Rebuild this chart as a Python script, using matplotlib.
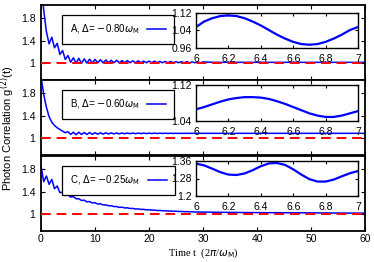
import numpy as np
import matplotlib
matplotlib.use("Agg")
import matplotlib.pyplot as plt

# time grid of the main panels (units of 2pi/omega_M)
t_main = np.concatenate([np.arange(0, 30.01, 0.5), np.arange(32, 60.01, 2)])

gA = [2.6, 1.95, 1.56, 1.34, 1.46, 1.27, 1.35, 1.15, 1.22, 1.06,
      1.13, 1.01, 1.09, 0.99, 1.08, 0.99, 1.07, 0.995, 1.065, 0.995,
      1.06, 1.0, 1.055, 1.0, 1.05, 1.0, 1.045, 1.0, 1.045, 1.0,
      1.04, 1.0, 1.04, 1.0, 1.035, 1.0, 1.035, 1.0, 1.03, 1.0,
      1.03, 1.0, 1.03, 1.0, 1.025, 1.0, 1.025, 1.0, 1.025, 1.0,
      1.02, 1.0, 1.02, 1.0, 1.02, 1.0, 1.015, 1.0, 1.015, 1.0,
      1.015,
      1.008, 1.008, 1.008, 1.008, 1.008, 1.008, 1.008, 1.008,
      1.008, 1.008, 1.008, 1.008, 1.008, 1.008, 1.008]

gB = [2.1, 1.78, 1.55, 1.38, 1.28, 1.22, 1.18, 1.15, 1.12, 1.09,
      1.11, 1.06, 1.1, 1.055, 1.1, 1.06, 1.095, 1.06, 1.095, 1.062,
      1.092, 1.064, 1.09, 1.066, 1.09, 1.068, 1.088, 1.07, 1.087, 1.07,
      1.086, 1.072, 1.085, 1.073, 1.085, 1.074, 1.084, 1.075, 1.084, 1.076,
      1.083, 1.077, 1.083, 1.077, 1.082, 1.078, 1.082, 1.078, 1.082, 1.078,
      1.081, 1.079, 1.08, 1.08, 1.08, 1.08, 1.08, 1.08, 1.08, 1.08,
      1.08,
      1.08, 1.08, 1.08, 1.08, 1.08, 1.08, 1.08, 1.08,
      1.08, 1.08, 1.08, 1.08, 1.08, 1.08, 1.08]

gC = [1.86, 1.58, 1.68, 1.53, 1.62, 1.45, 1.5, 1.38, 1.39, 1.33,
      1.34, 1.3, 1.31, 1.27, 1.27, 1.24, 1.245, 1.215, 1.22, 1.195,
      1.2, 1.175, 1.18, 1.16, 1.16, 1.145, 1.145, 1.13, 1.13, 1.115,
      1.118, 1.105, 1.107, 1.095, 1.097, 1.086, 1.088, 1.078, 1.08, 1.071,
      1.073, 1.065, 1.066, 1.059, 1.06, 1.054, 1.055, 1.049, 1.05, 1.045,
      1.046, 1.041, 1.042, 1.038, 1.039, 1.035, 1.036, 1.032, 1.033, 1.03,
      1.03,
      1.028, 1.026, 1.024, 1.022, 1.021, 1.02, 1.019, 1.018,
      1.017, 1.016, 1.015, 1.014, 1.013, 1.012, 1.012]

# zoomed windows t = 6 .. 7
t_zoom = np.linspace(6, 7, 21)
zA = [1.056, 1.081, 1.096, 1.106, 1.109, 1.106, 1.096, 1.081, 1.063, 1.042,
      1.021, 1.003, 0.988, 0.978, 0.975, 0.978, 0.988, 1.003, 1.021, 1.042, 1.056]
zB = [1.066, 1.071, 1.077, 1.083, 1.088, 1.091, 1.093, 1.093, 1.092, 1.089,
      1.084, 1.078, 1.071, 1.064, 1.057, 1.052, 1.049, 1.049, 1.052, 1.057, 1.062]
zC = [1.348, 1.34, 1.325, 1.309, 1.298, 1.296, 1.303, 1.318, 1.336, 1.349,
      1.351, 1.342, 1.322, 1.298, 1.277, 1.266, 1.266, 1.275, 1.29, 1.304, 1.314]

labels = [r'A, $\Delta$= $-$0.80$\omega_{\rm M}$',
          r'B, $\Delta$= $-$0.60$\omega_{\rm M}$',
          r'C, $\Delta$= $-$0.25$\omega_{\rm M}$']
zoom_ylim = [(0.96, 1.12), (1.04, 1.12), (1.2, 1.36)]
zoom_yticks = [[0.96, 1.04, 1.12], [1.04, 1.12], [1.2, 1.28, 1.36]]
zoom_ylabels = [['0.96', '1.04', '1.12'], ['1.04', '1.12'], ['1.2', '1.28', '1.36']]

plt.rcParams['font.family'] = ['Liberation Sans', 'DejaVu Sans']
plt.rcParams['mathtext.fontset'] = 'dejavusans'

fig = plt.figure(figsize=(3.74, 2.62), dpi=100)
W, H = 374.0, 262.0
left, right = 41 / W, 365 / W
tops = [5, 80, 156]
ph = 75

mains = [gA, gB, gC]
zooms = [zA, zB, zC]
zoom_boxes = [(13, 48), (85, 121), (161, 196)]

for k in range(3):
    ax = fig.add_axes([left, 1 - (tops[k] + ph) / H, right - left, ph / H])
    ax.plot(t_main, mains[k], color='blue', lw=1.1)
    ax.axhline(1.0, color='red', lw=1.4, ls=(0, (5, 3)), zorder=3)
    ax.set_xlim(0, 60)
    ax.set_ylim(0.69, 2.04)
    ax.set_yticks([1, 1.4, 1.8])
    ax.set_yticklabels(['1', '1.4', '1.8'])
    ax.set_xticks(range(0, 61, 10))
    ax.tick_params(direction='in', top=True, right=True, length=3,
                   labelsize=7.5, width=0.8, pad=4)
    ax.tick_params(axis='x', pad=2.5)
    for s in ax.spines.values():
        s.set_linewidth(1.3)
    if k < 2:
        ax.set_xticklabels([])
    leg = ax.legend([labels[k]], loc='upper left', bbox_to_anchor=(0.065, 0.87),
                    markerfirst=False, fancybox=False, framealpha=1,
                    edgecolor='black', fontsize=7, handlelength=2.0,
                    borderpad=0.8, handletextpad=0.8, borderaxespad=0)
    leg.get_frame().set_linewidth(0.9)

    y0, y1 = zoom_boxes[k]
    ins = fig.add_axes([196 / W, 1 - y1 / H, 162 / W, (y1 - y0) / H])
    ins.plot(t_zoom, zooms[k], color='blue', lw=1.6)
    ins.set_xlim(6, 7)
    ins.set_ylim(*zoom_ylim[k])
    ins.set_xticks([6, 6.2, 6.4, 6.6, 6.8, 7])
    ins.set_xticklabels(['6', '6.2', '6.4', '6.6', '6.8', '7'])
    ins.set_yticks(zoom_yticks[k])
    ins.set_yticklabels(zoom_ylabels[k])
    ins.tick_params(direction='in', top=True, right=True, length=2.5,
                    labelsize=7.5, width=0.8, pad=3)
    ins.tick_params(axis='x', pad=4)
    for s in ins.spines.values():
        s.set_linewidth(1.0)

fig.text(8 / W, 0.51, r'Photon Correlation g$^{(2)}$(t)', rotation=90,
         ha='center', va='center', fontsize=8)
fig.text(203 / W, 1 - 253 / H, r'Time t  (2$\pi$/$\omega_{\rm M}$)',
         ha='center', va='center', fontsize=7.5, family='Liberation Serif')

fig.savefig('out.png', dpi=100)
